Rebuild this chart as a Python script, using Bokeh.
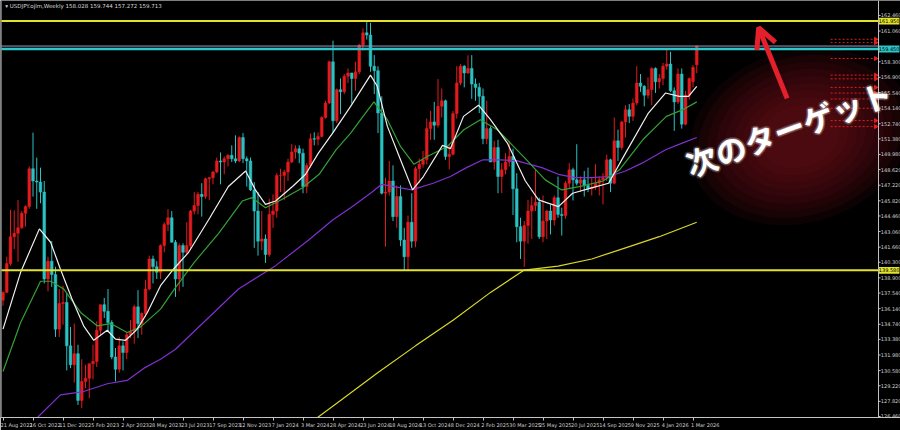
from bokeh.plotting import figure
from bokeh.models import (Range1d, FixedTicker, Label, Arrow, OpenHead, ColumnDataSource, Span)
from bokeh.core.properties import value
from bokeh.embed import file_html
from bokeh.resources import INLINE

# ---------------- data (weekly USDJPY, week index 0 = 21 Aug 2022) ----------------
opens = [136.9, 137.6, 140.2, 142.6, 142.9, 143.4, 144.7, 145.3, 148.7, 147.6,
         147.5, 146.6, 138.8, 140.4, 139.2, 134.3, 136.6, 136.7, 132.8, 131.1,
         132.1, 127.9, 129.6, 129.9, 131.2, 131.4, 134.2, 136.5, 135.9, 134.9,
         131.8, 130.7, 132.8, 132.2, 133.8, 134.1, 136.3, 134.8, 135.7, 137.9,
         140.6, 139.9, 139.4, 141.8, 143.7, 144.3, 142.1, 138.8, 141.8, 141.2,
         141.8, 144.9, 145.4, 146.4, 146.2, 147.8, 147.9, 148.4, 149.4, 149.3,
         149.6, 149.9, 149.6, 149.4, 151.5, 149.6, 149.4, 146.8, 144.9, 142.2,
         142.4, 141.0, 144.6, 144.9, 148.1, 148.1, 148.4, 149.3, 150.2, 150.5,
         150.1, 147.1, 149.0, 151.4, 151.35, 151.6, 153.3, 154.6, 158.3, 153.0,
         155.8, 155.6, 157.0, 157.3, 156.8, 157.4, 159.8, 160.9, 160.7, 157.9,
         157.5, 153.7, 146.5, 146.6, 147.6, 144.4, 146.2, 142.3, 140.8, 143.9,
         142.2, 148.7, 149.1, 149.5, 152.3, 152.9, 152.6, 154.3, 154.8, 149.8,
         150.0, 153.65, 156.4, 157.9, 157.3, 157.7, 156.3, 156.0, 155.2, 151.4,
         152.3, 149.3, 150.6, 148.0, 148.6, 149.3, 149.8, 146.9, 143.5, 142.2,
         143.6, 144.9, 145.4, 145.7, 142.6, 144.0, 144.9, 144.1, 146.1, 144.6,
         144.5, 147.4, 148.6, 147.7, 147.4, 147.7, 147.2, 146.9, 147.05, 147.4,
         147.7, 147.9, 149.5, 147.4, 151.2, 150.6, 152.9, 154.0, 153.4, 154.6,
         156.4, 156.1, 155.3, 155.8, 157.7, 156.5, 156.8, 157.9, 158.1, 155.7,
         154.7, 157.2, 152.7, 155.3, 156.5, 158.028]
highs = [137.7, 140.8, 145.0, 144.96, 145.9, 144.9, 145.4, 148.9, 151.94, 149.7,
         148.8, 147.6, 140.8, 142.2, 139.9, 137.9, 138.2, 137.5, 134.5, 134.8,
         132.9, 131.6, 131.1, 131.2, 132.9, 135.0, 136.5, 137.1, 137.9, 135.1,
         132.6, 133.6, 133.2, 134.0, 135.1, 136.5, 137.8, 135.8, 138.7, 140.9,
         140.9, 140.4, 141.9, 143.9, 145.07, 144.9, 142.3, 142.0, 142.0, 143.9,
         145.0, 146.6, 146.6, 147.4, 147.9, 147.95, 148.5, 149.7, 150.16, 149.8,
         150.0, 150.8, 151.7, 151.6, 151.9, 149.8, 149.7, 147.5, 146.6, 144.9,
         142.8, 146.0, 146.4, 148.3, 148.7, 148.6, 149.6, 150.9, 150.8, 150.8,
         150.5, 149.2, 151.86, 151.97, 151.95, 153.4, 154.8, 158.4, 160.2, 155.9,
         156.8, 157.2, 157.7, 157.3, 158.3, 159.9, 161.3, 161.95, 161.8, 158.9,
         157.9, 155.2, 147.9, 149.4, 149.0, 147.2, 147.2, 143.4, 144.5, 146.5,
         148.9, 149.6, 150.3, 153.2, 153.9, 154.7, 156.75, 155.9, 154.9, 150.8,
         153.9, 157.9, 158.08, 158.0, 158.87, 158.9, 156.8, 156.4, 155.9, 154.8,
         152.5, 151.2, 151.3, 149.2, 150.1, 151.2, 150.5, 148.3, 144.3, 144.0,
         145.9, 146.2, 148.65, 146.1, 146.3, 145.0, 145.5, 146.3, 148.0, 145.2,
         147.6, 149.2, 148.8, 150.9, 148.0, 148.5, 148.8, 147.9, 149.1, 148.0,
         148.3, 149.96, 149.6, 153.3, 152.2, 153.0, 154.4, 154.5, 155.0, 157.9,
         157.2, 156.2, 156.9, 157.8, 157.8, 157.2, 158.2, 159.45, 159.2, 156.0,
         157.7, 157.7, 155.7, 156.9, 158.0, 159.744]
lows = [136.4, 137.6, 140.0, 141.5, 140.35, 143.3, 143.5, 145.1, 146.2, 145.1,
        145.6, 138.4, 137.7, 138.1, 133.6, 133.6, 134.7, 130.6, 130.8, 129.5,
        127.5, 127.2, 129.0, 128.1, 129.8, 130.9, 133.8, 135.3, 134.1, 131.6,
        129.6, 130.4, 130.6, 131.6, 133.5, 133.0, 133.5, 133.8, 135.4, 137.8,
        138.4, 138.8, 138.8, 141.2, 143.1, 142.1, 137.2, 137.7, 138.1, 141.0,
        141.5, 144.6, 144.6, 144.4, 146.0, 145.9, 147.3, 148.3, 147.3, 148.2,
        148.9, 149.3, 149.2, 149.3, 149.2, 147.1, 146.7, 141.6, 140.9, 141.4,
        140.25, 140.8, 143.4, 144.3, 146.6, 145.9, 147.6, 149.2, 149.6, 149.2,
        146.5, 146.5, 148.8, 150.8, 150.8, 151.5, 153.2, 154.5, 151.9, 152.8,
        153.6, 155.4, 156.4, 154.55, 155.7, 157.2, 159.3, 160.3, 157.4, 155.4,
        151.9, 146.4, 141.7, 146.3, 144.0, 143.4, 141.75, 139.6, 139.58, 141.6,
        141.65, 147.4, 148.8, 149.1, 151.3, 151.3, 152.4, 153.3, 149.5, 148.65,
        149.9, 153.2, 156.2, 156.0, 157.2, 154.97, 154.8, 153.7, 150.9, 150.9,
        149.3, 148.6, 146.5, 146.5, 148.2, 148.9, 144.55, 142.1, 140.6, 139.89,
        141.97, 142.4, 144.9, 142.4, 142.1, 142.4, 142.8, 143.6, 144.3, 142.7,
        144.2, 146.9, 145.85, 147.2, 146.6, 146.2, 146.6, 146.3, 146.8, 146.3,
        145.5, 147.6, 146.6, 147.3, 149.4, 150.4, 151.5, 152.8, 153.0, 154.4,
        155.6, 154.3, 155.0, 154.4, 155.5, 155.9, 156.2, 157.6, 155.6, 152.1,
        154.5, 152.3, 152.6, 154.9, 156.0, 157.272]
closes = [137.6, 140.2, 142.6, 142.9, 143.4, 144.7, 145.3, 148.7, 147.6, 147.5,
          146.6, 138.8, 140.4, 139.2, 134.3, 136.6, 136.7, 132.8, 131.1, 132.1,
          127.9, 129.6, 129.9, 131.2, 131.4, 134.2, 136.5, 135.9, 134.9, 131.8,
          130.7, 132.8, 132.2, 133.8, 134.1, 136.3, 134.8, 135.7, 137.9, 140.6,
          139.9, 139.4, 141.8, 143.7, 144.3, 142.1, 138.8, 141.8, 141.2, 141.8,
          144.9, 145.4, 146.4, 146.2, 147.8, 147.9, 148.4, 149.4, 149.3, 149.6,
          149.9, 149.6, 149.4, 151.5, 149.6, 149.4, 146.8, 144.9, 142.2, 142.4,
          141.0, 144.6, 144.9, 148.1, 148.1, 148.4, 149.3, 150.2, 150.5, 150.1,
          147.1, 149.0, 151.4, 151.35, 151.6, 153.3, 154.6, 158.3, 153.0, 155.8,
          155.6, 157.0, 157.3, 156.8, 157.4, 159.8, 160.9, 160.7, 157.9, 157.5,
          153.7, 146.5, 146.6, 147.6, 144.4, 146.2, 142.3, 140.8, 143.9, 142.2,
          148.7, 149.1, 149.5, 152.3, 152.9, 152.6, 154.3, 154.8, 149.8, 150.0,
          153.65, 156.4, 157.9, 157.3, 157.7, 156.3, 156.0, 155.2, 151.4, 152.3,
          149.3, 150.6, 148.0, 148.6, 149.3, 149.8, 146.9, 143.5, 142.2, 143.6,
          144.9, 145.4, 145.7, 142.6, 144.0, 144.9, 144.1, 146.1, 144.6, 144.5,
          147.4, 148.6, 147.7, 147.4, 147.7, 147.2, 146.9, 147.05, 147.4, 147.7,
          147.9, 149.5, 147.4, 151.2, 150.6, 152.9, 154.0, 153.4, 154.6, 156.4,
          156.1, 155.3, 155.8, 157.7, 156.5, 156.8, 157.9, 158.1, 155.7, 154.7,
          157.2, 152.7, 155.3, 156.8, 157.8, 159.713]

# moving averages (week index, price)
ma_white_x = [0, 4.7, 9.7, 12.7, 15.3, 18.4, 21.5, 24.2, 27.8, 30, 32.7, 35.8, 38.5, 42, 45.5,
              49.5, 54.8, 60.1, 64.7, 67.3, 70, 72.7, 77.2, 80.7, 84.1, 87.9, 92.7, 98, 99.8,
              102.5, 106, 109.2, 112.1, 117.2, 119.3, 122.8, 126.8, 130, 134.5, 139.3, 142.8,
              148.1, 151.9, 157.2, 161.5, 166, 172.1, 176.7, 180.3, 182.8, 185]
ma_white_y = [134.3, 139.4, 143.3, 142.1, 139.7, 137.0, 134.6, 133.3, 134.2, 133.4, 133.3, 134.3,
              135.8, 138.2, 139.7, 141.2, 144.1, 147.1, 148.5, 146.8, 145.5, 145.8, 147.1, 148.2,
              150.1, 151.9, 154.3, 157.1, 156.1, 152.5, 149.5, 146.8, 148.0, 150.8, 150.5, 153.4,
              154.4, 153.1, 151.0, 147.6, 145.9, 145.3, 146.5, 147.0, 147.4, 150.1, 153.7, 155.5,
              155.2, 155.2, 156.1]
ma_green_x = [0, 4.7, 10, 12.7, 16.2, 20.7, 25.1, 28.7, 33.1, 36.7, 42, 45.5, 51, 57.5, 63.8,
              66.4, 70, 73.6, 79.9, 84.3, 88.8, 92.7, 98.9, 102.5, 106, 109.6, 113.1, 118.5,
              122.9, 127.3, 131.8, 135.3, 139.3, 144.6, 149, 153.7, 160, 164.4, 170.6, 176.9,
              181.3, 185]
ma_green_y = [130.5, 134.9, 138.6, 138.6, 137.9, 135.8, 134.6, 134.8, 134.0, 134.5, 136.1, 137.8,
              140.3, 142.9, 145.8, 146.1, 145.2, 145.8, 147.0, 148.2, 150.4, 151.9, 154.7, 153.1,
              150.7, 149.1, 149.8, 150.7, 152.2, 153.1, 152.2, 151.0, 149.6, 147.7, 146.8, 147.1,
              147.6, 148.6, 151.3, 153.4, 154.0, 154.7]
ma_purple_x = [0, 9, 15.3, 21.5, 27.8, 33.1, 37.6, 42, 46, 62.8, 72.7, 81.5, 87.9, 92.7, 98, 101,
               109, 114.7, 119.3, 123.6, 128, 132.7, 137.2, 139.3, 143.7, 148.1, 152.6, 157,
               161.5, 166, 170.4, 176.7, 181.1, 185]
ma_purple_y = [123.5, 126.3, 128.4, 128.7, 129.4, 129.7, 130.8, 131.6, 132.5, 137.9, 140.0, 142.3,
               144.1, 145.2, 146.5, 147.3, 146.8, 147.4, 148.0, 148.8, 149.5, 149.5, 149.4, 149.2,
               148.8, 148.2, 147.9, 147.9, 148.0, 148.5, 149.2, 150.4, 151.0, 151.5]
ma_yellow_x = [82, 90, 100, 110, 120, 130, 139, 148, 157, 166, 175, 185]
ma_yellow_y = [125.9, 127.9, 130.4, 132.8, 135.1, 137.6, 139.6, 139.95, 140.6, 141.6, 142.6, 143.9]

# axis labels
date_labels = ["21 Aug 2022", "16 Oct 2022", "11 Dec 2022", "5 Feb 2023", "2 Apr 2023",
               "28 May 2023", "23 Jul 2023", "17 Sep 2023", "12 Nov 2023", "7 Jan 2024",
               "3 Mar 2024", "28 Apr 2024", "23 Jun 2024", "18 Aug 2024", "13 Oct 2024",
               "8 Dec 2024", "2 Feb 2025", "30 Mar 2025", "25 May 2025", "20 Jul 2025",
               "14 Sep 2025", "9 Nov 2025", "4 Jan 2026", "1 Mar 2026"]
date_label_weeks = [0, 8, 16, 24, 32, 40, 48, 56, 64, 72, 80, 88, 96, 104, 112, 120, 128, 136,
                    144, 152, 160, 168, 176, 184]
price_ticks = [162.460, 161.060, 158.300, 156.900, 155.540, 154.140, 152.740, 151.380,
               149.980, 148.620, 147.220, 145.820, 144.460, 143.060, 141.660, 140.300,
               138.900, 137.540, 136.140, 134.740, 133.380, 131.980, 130.580, 129.220,
               127.820, 126.460]

# horizontal levels
level_top_yellow = 161.95
level_cyan = 159.45
level_bid = 159.713
level_bottom_yellow = 139.58
order_levels = [160.32, 160.02, 158.59, 157.10, 156.77, 156.00, 155.49, 154.96, 154.13,
                153.02, 152.48]

title_text = "\u25be USDJPY.ojlm,Weekly  158.028 159.744 157.272 159.713"
annotation_text = "次のターゲット"

# ---------------- styling / geometry ----------------
BULL = "#e41b1e"
BEAR = "#2ac2c2"
BG = "#000000"
AXIS = "#c4c4c4"
YELLOW = "#e3e32c"
CYAN = "#2ec6c6"

X0, X1 = -0.667, 239.33          # full chart width incl. the price-scale column
Y0, Y1 = 126.37, 163.80
SCALE_X = 233.47                  # position of the price-scale line
ORDER_X0, ORDER_X1 = 220.7, 232.9

p = figure(width=900, height=430, output_backend="svg", toolbar_location=None,
           x_range=Range1d(X0, X1), y_range=Range1d(Y0, Y1), y_axis_location=None,
           background_fill_color=BG, border_fill_color=BG,
           min_border_left=0, min_border_top=0, min_border_right=0, min_border_bottom=11,
           outline_line_color=None)
p.grid.visible = False

# soft glow behind the annotation
for k in range(9):
    f = 1.0 - k * 0.08
    p.ellipse(x=[212.5], y=[151.6], width=[60 * f], height=[15.5 * f], angle=0.3,
              fill_color="#7a1119", fill_alpha=0.11, line_color=None)

# candles
idx = list(range(len(opens)))
colors = [BULL if c >= o else BEAR for o, c in zip(opens, closes)]
src = ColumnDataSource(dict(x=idx, o=opens, h=highs, l=lows, c=closes,
                            top=[max(o, c) for o, c in zip(opens, closes)],
                            bot=[min(o, c) for o, c in zip(opens, closes)],
                            col=colors))
p.segment(x0="x", y0="l", x1="x", y1="h", source=src, line_color="col", line_width=1)
p.vbar(x="x", width=0.72, top="top", bottom="bot", source=src,
       fill_color="col", line_color="col", line_width=0.5)

# moving averages
p.line(ma_yellow_x, ma_yellow_y, line_color="#d8d82a", line_width=1.2)
p.line(ma_purple_x, ma_purple_y, line_color="#8030d0", line_width=1.2)
p.line(ma_green_x, ma_green_y, line_color="#35a035", line_width=1.2)
p.line(ma_white_x, ma_white_y, line_color="#f0f0f0", line_width=1.2)

# horizontal levels (stop at the price scale)
p.segment(x0=[X0] * 4, x1=[SCALE_X] * 4,
          y0=[level_top_yellow, level_bid, level_cyan, level_bottom_yellow],
          y1=[level_top_yellow, level_bid, level_cyan, level_bottom_yellow],
          line_color=[YELLOW, "#9a9ac8", CYAN, YELLOW], line_width=[2, 1, 2.5, 2])

# order levels (red dotted)
n = len(order_levels)
p.segment(x0=[ORDER_X0] * n, x1=[ORDER_X1] * n, y0=order_levels, y1=order_levels,
          line_color="#e02020", line_width=1, line_dash="2 2")
p.scatter(x=[232.7] * n, y=order_levels, marker="triangle", angle=-1.5708, size=4,
          fill_color="#e02020", line_color="#e02020")

# left border and price scale
p.add_layout(Span(location=X0 + 0.2, dimension="height", line_color="#8a8a8a", line_width=1))
p.add_layout(Span(location=SCALE_X, dimension="height", line_color=AXIS, line_width=1))
nt = len(price_ticks)
p.segment(x0=[SCALE_X] * nt, x1=[SCALE_X + 0.55] * nt, y0=price_ticks, y1=price_ticks,
          line_color=AXIS, line_width=1)
p.text(x=[SCALE_X + 0.6] * nt, y=price_ticks, text=[f"{v:.3f}" for v in price_ticks],
       text_font=value("DejaVu Sans"), text_font_size="5px", text_color="#d0d0d0",
       text_align="left", text_baseline="middle")

# price boxes on the scale
box_levels = [level_top_yellow, level_cyan, level_bottom_yellow]
box_colors = [YELLOW, CYAN, YELLOW]
p.rect(x=[236.3] * 3, y=box_levels, width=[5.5] * 3, height=[0.62] * 3,
       fill_color=box_colors, line_color=None)
p.text(x=[236.3] * 3, y=box_levels, text=[f"{v:.3f}" for v in box_levels],
       text_font=value("DejaVu Sans"), text_font_size="5px", text_color="#000000",
       text_align="center", text_baseline="middle")

# date axis
xa = p.xaxis[0]
xa.ticker = FixedTicker(ticks=[w + 3.25 for w in date_label_weeks], minor_ticks=date_label_weeks)
xa.major_label_overrides = {w + 3.25: lab for w, lab in zip(date_label_weeks, date_labels)}
xa.major_label_text_font_size = "5px"
xa.major_label_text_font = "DejaVu Sans"
xa.major_label_text_color = "#d0d0d0"
xa.axis_line_color = AXIS
xa.major_tick_out = 0
xa.major_tick_in = 0
xa.major_tick_line_color = None
xa.minor_tick_out = 3
xa.minor_tick_in = 0
xa.minor_tick_line_color = AXIS
xa.major_label_standoff = 1
xa.axis_label_standoff = 0

# title
p.add_layout(Label(x=0.6, y=Y1, y_offset=-2, text=title_text, text_baseline="top",
                   text_align="left", text_font_size="5.5px", text_font="DejaVu Sans",
                   text_color="#d8d8d8"))

# annotation arrow and text (with a faint white halo)
p.add_layout(Arrow(end=OpenHead(size=20, line_color="#e3202c", line_width=5),
                   x_start=209.1, y_start=155.02, x_end=201.5, y_end=161.36,
                   line_color="#e3202c", line_width=5))
for dx, dy in [(-2, 0), (2, 0), (0, -2), (0, 2), (-1.5, -1.5), (1.5, 1.5), (-1.5, 1.5), (1.5, -1.5)]:
    p.add_layout(Label(x=209.5, y=152.37, x_offset=dx, y_offset=dy, text=annotation_text,
                       angle=0.349, text_align="center", text_baseline="middle",
                       text_font="Noto Sans CJK JP", text_font_style="bold",
                       text_font_size="31px", text_color="#ffffff", text_alpha=0.12))
p.add_layout(Label(x=209.5, y=152.37, text=annotation_text, angle=0.349, text_align="center",
                   text_baseline="middle", text_font="Noto Sans CJK JP", text_font_style="bold",
                   text_font_size="31px", text_color="#ffffff"))

html = file_html(p, INLINE, title="USDJPY Weekly")
html = html.replace("<body>", '<body style="background-color:#000000;">', 1)
with open("out.html", "w") as f:
    f.write(html)
